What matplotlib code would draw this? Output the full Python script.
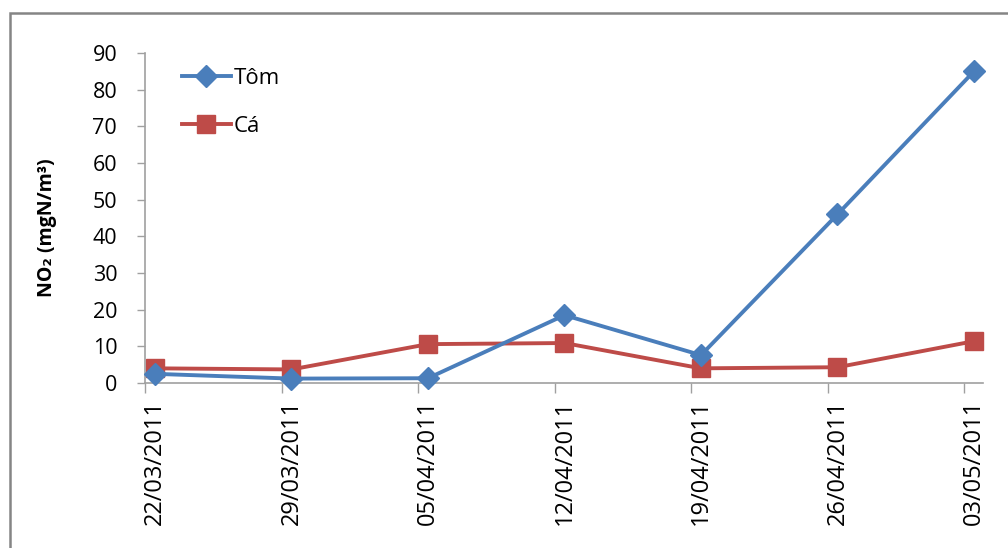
import matplotlib
matplotlib.use("Agg")
import matplotlib.pyplot as plt
from matplotlib.patches import Rectangle
import numpy as np

dates = ["22/03/2011", "29/03/2011", "05/04/2011", "12/04/2011",
         "19/04/2011", "26/04/2011", "03/05/2011"]
tom = [2.5, 1.2, 1.3, 18.5, 7.6, 46.0, 85.0]
ca = [4.0, 3.7, 10.6, 10.9, 4.0, 4.3, 11.4]
y_ticks = [0, 10, 20, 30, 40, 50, 60, 70, 80, 90]

plt.rcParams['font.family'] = ['Open Sans', 'DejaVu Sans']

fig = plt.figure(figsize=(10.08, 5.48), dpi=100)
W, H = 1008, 548

# outer chart border
fig.patches.append(Rectangle((10 / W, -0.1), 1.2, 1 - 13 / H + 0.1,
                             transform=fig.transFigure, fill=False,
                             edgecolor='#858585', linewidth=1.8))

ax = fig.add_axes([145 / W, 1 - 383 / H, (983 - 145) / W, (383 - 53) / H])
x = np.arange(len(dates))
ax.plot(x, tom, color='#4A7EBB', linewidth=2.8, marker='D', markersize=11,
        label='Tôm', clip_on=False, zorder=3)
ax.plot(x, ca, color='#BE4B48', linewidth=2.8, marker='s', markersize=12.5,
        label='Cá', clip_on=False, zorder=2)

ax.set_ylim(0, 90)
ax.set_xlim(-0.073, 6.066)
ax.set_yticks(y_ticks)
ax.tick_params(axis='y', length=6, width=1, color='#a0a0a0', labelsize=15.5,
               pad=14)
ax.set_xticks(x)
ax.set_xticklabels(dates, rotation=90, fontsize=17)
ax.tick_params(axis='x', length=0, pad=12)
# category tick marks sit slightly left of the data points
ax.set_xticks(x - 0.073, minor=True)
ax.tick_params(axis='x', which='minor', length=7, width=1, color='#a0a0a0')

for s in ['top', 'right']:
    ax.spines[s].set_visible(False)
for s in ['left', 'bottom']:
    ax.spines[s].set_color('#a0a0a0')
    ax.spines[s].set_linewidth(1.2)

ax.set_ylabel('NO₂ (mgN/m³)', fontsize=14, fontweight='bold')
ax.yaxis.set_label_coords(-0.105, 0.47)

leg = ax.legend(loc='upper left', bbox_to_anchor=(0.02, 1.015), frameon=False,
                fontsize=16, handlelength=2.2, handletextpad=0.15,
                labelspacing=1.2)

fig.savefig('out.png', dpi=100)
